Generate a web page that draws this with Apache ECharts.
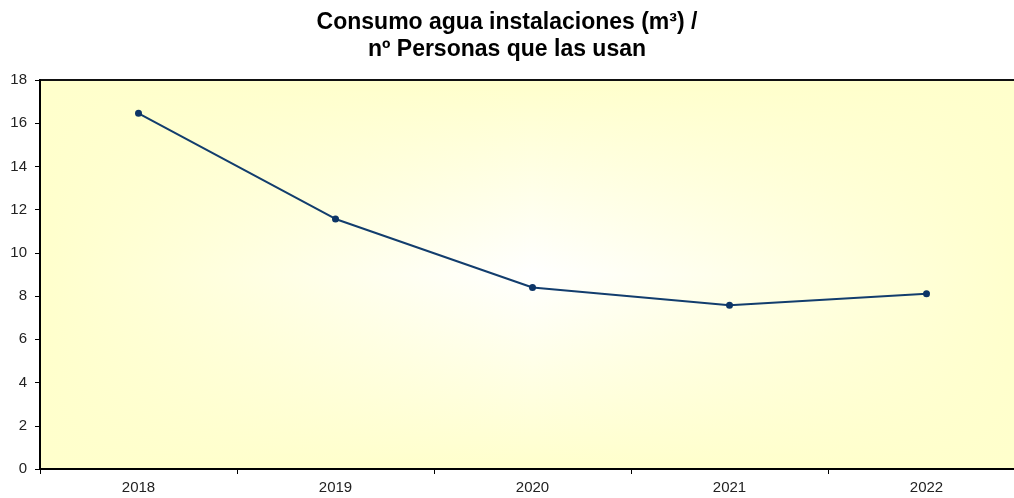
<!DOCTYPE html>
<html>
<head>
<meta charset="utf-8">
<script src="https://cdn.jsdelivr.net/npm/echarts@6/dist/echarts.min.js"></script>
<style>html,body{margin:0;padding:0;background:#fff;}#c{width:1014px;height:498px;}</style>
</head>
<body>
<div id="c"></div>
<script>
var categories = ['2018', '2019', '2020', '2021', '2022'];
var values = [16.46, 11.57, 8.40, 7.58, 8.11];
var yTicks = [0, 2, 4, 6, 8, 10, 12, 14, 16, 18];

var G = { left: 40, top: 80, width: 985, height: 389 };
var chart = echarts.init(document.getElementById('c'));
chart.setOption({
  animation: false,
  backgroundColor: '#ffffff',
  title: {
    text: 'Consumo agua instalaciones (m³) /\nnº Personas que las usan',
    left: 'center',
    top: 3.5,
    textStyle: { fontFamily: 'Liberation Sans', fontWeight: 'bold', fontSize: 23, lineHeight: 27.5, color: '#000' }
  },
  graphic: [
    { type: 'rect', z: -10, silent: true,
      shape: { x: G.left, y: G.top, width: G.width, height: G.height },
      style: { fill: new echarts.graphic.LinearGradient(0, 0, 0, 1, [
        { offset: 0, color: '#FFFFCC' }, { offset: 0.5, color: '#FFFFFF' }, { offset: 1, color: '#FFFFCC' }]) } },
    { type: 'rect', z: -9, silent: true,
      shape: { x: G.left, y: G.top, width: G.width, height: G.height },
      style: { fill: new echarts.graphic.LinearGradient(0, 0, 1, 0, [
        { offset: 0, color: 'rgba(255,255,204,1)' }, { offset: 0.5, color: 'rgba(255,255,204,0)' }, { offset: 1, color: 'rgba(255,255,204,1)' }]) } }
  ],
  grid: {
    left: G.left, top: G.top, width: G.width, height: G.height,
    outerBoundsMode: 'none', containLabel: false,
    show: true, backgroundColor: 'transparent', borderColor: '#111', borderWidth: 2
  },
  xAxis: {
    type: 'category',
    data: categories,
    boundaryGap: true,
    axisLine: { lineStyle: { color: '#000', width: 2 } },
    axisTick: { show: true, length: 5, lineStyle: { color: '#000', width: 1 } },
    axisLabel: { fontFamily: 'Liberation Sans', fontSize: 15, color: '#222', margin: 11 },
    splitLine: { show: false }
  },
  yAxis: {
    type: 'value',
    min: yTicks[0], max: yTicks[yTicks.length - 1], interval: 2,
    axisLine: { show: true, lineStyle: { color: '#000', width: 2 } },
    axisTick: { show: true, length: 5, lineStyle: { color: '#000', width: 1 } },
    axisLabel: { fontFamily: 'Liberation Sans', fontSize: 15, color: '#222', margin: 13 },
    splitLine: { show: false }
  },
  series: [{
    type: 'line',
    data: values,
    symbol: 'circle',
    symbolSize: 7,
    lineStyle: { color: '#123d6d', width: 2 },
    itemStyle: { color: '#0d3566' }
  }]
});
</script>
</body>
</html>
